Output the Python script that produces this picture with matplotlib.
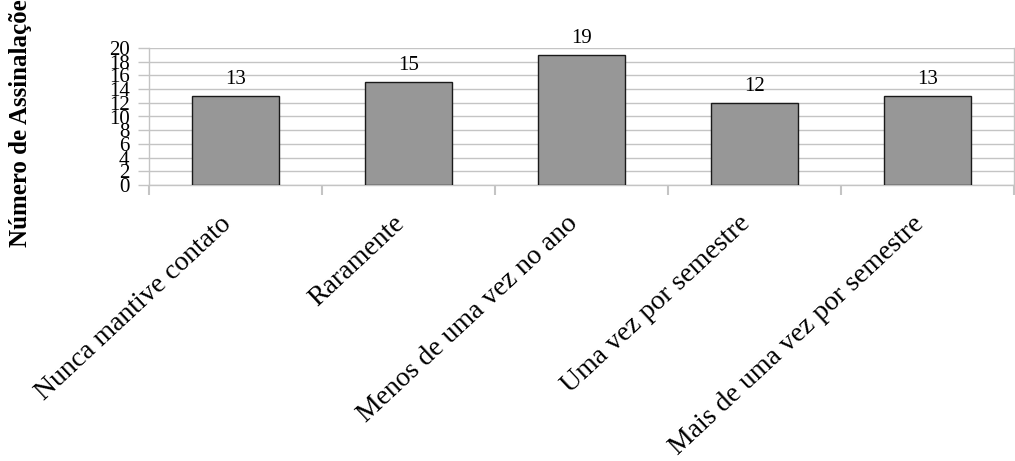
import matplotlib
matplotlib.use("Agg")
import matplotlib.pyplot as plt

categories = ["Nunca mantive contato", "Raramente", "Menos de uma vez no ano",
              "Uma vez por semestre", "Mais de uma vez por semestre"]
values = [13, 15, 19, 12, 13]
yticks = list(range(0, 21, 2))
ylabel = "Número de Assinalações"

plt.rcParams['font.family'] = ['Liberation Serif', 'DejaVu Serif']

W, H = 1015, 461
fig = plt.figure(figsize=(W / 100, H / 100), dpi=100)
ax = fig.add_axes([149 / W, 1 - 185 / H, 865 / W, 137 / H])

grid_grey = "#c4c4c4"
x = list(range(len(categories)))
ax.bar(x, values, width=0.5, color="#979797", edgecolor="#1a1a1a", linewidth=1.0, zorder=3)

# value labels above bars
for xi, v in zip(x, values):
    ax.annotate(str(v), xy=(xi, v), xytext=(0, 8.6), textcoords="offset points",
                ha="center", va="baseline", fontsize=15, zorder=4)

ax.set_xlim(-0.5, len(categories) - 0.5)
ax.set_ylim(0, 20)
ax.set_yticks(yticks)
ax.set_yticklabels([str(t) for t in yticks], fontsize=15)
ax.yaxis.grid(True, color=grid_grey, linewidth=1.0, zorder=0)
ax.tick_params(axis="y", length=8, color=grid_grey, width=1.0, pad=6)

# category separators below the axis
ax.set_xticks([i - 0.5 for i in range(len(categories) + 1)])
ax.set_xticklabels([])
ax.tick_params(axis="x", length=7.5, color=grid_grey, width=1.5)

# slanted category names
for xi, name in zip(x, categories):
    ax.annotate(name, xy=(xi, 0), xytext=(-2.2, -28.8), textcoords="offset points",
                rotation=43, rotation_mode="anchor", ha="right", va="baseline",
                fontsize=20, annotation_clip=False)

for side in ["left", "right", "bottom"]:
    ax.spines[side].set_color(grid_grey)
    ax.spines[side].set_linewidth(1.0)
ax.spines["top"].set_visible(False)

fig.text(27 / W, 1 - 118.5 / H, ylabel, rotation=90, rotation_mode="anchor",
         ha="center", va="baseline", fontsize=18, fontweight="bold")

fig.savefig("out.png", dpi=100)
